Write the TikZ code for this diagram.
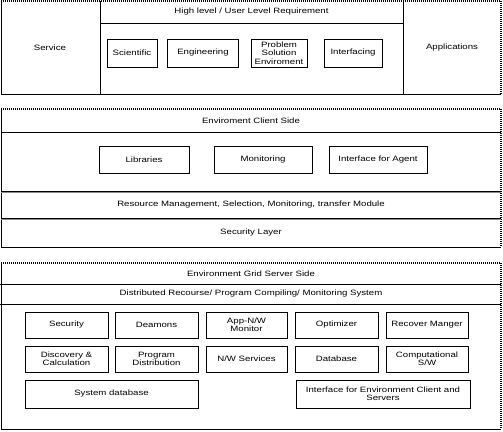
\documentclass[tikz,border=0pt]{standalone}
\usepackage{fontspec}
\setmainfont{Liberation Sans}[FakeStretch=1.25]
\usetikzlibrary{shadows}
\begin{document}
\begin{tikzpicture}[x=1pt,y=-1pt,
  every node/.style={font=\fontsize{7.7}{8.4}\selectfont, inner sep=0pt, outer sep=0pt, align=center},
  lbl/.style={},
  box/.style={draw, fill=white, line width=0.75pt,
    drop shadow={shadow xshift=0.8pt, shadow yshift=-0.8pt, fill=black!45, opacity=1}},
  solidedge/.style={line width=0.9pt},
  dotedge/.style={line width=1.2pt, dash pattern=on 1pt off 1pt},
  sepline/.style={line width=0.8pt},
  sepshadow/.style={line width=0.9pt, black!45}]
\useasboundingbox (0,0) rectangle (503,431);
% ---------- panel 1 ----------
\coordinate (p1tl) at (1,1); \coordinate (p1tr) at (501,1);
\coordinate (p1bl) at (1,94); \coordinate (p1br) at (501,94);
\draw[solidedge] (p1tl) -- (p1bl) -- (p1br);
\draw[dotedge] (p1tl) -- (p1tr) -- (p1br);
\coordinate (c1t) at (100,1); \coordinate (c1b) at (100,94);
\coordinate (c2t) at (403,1); \coordinate (c2b) at (403,94);
\draw[line width=0.8pt] (c1t) -- (c1b) (c2t) -- (c2b);
\coordinate (h1l) at (100,23); \coordinate (h1r) at (403,23);
\draw[line width=0.8pt] (h1l) -- (h1r);
\node[lbl] (hl) at (251.5,12) {High level / User Level Requirement};
\node[lbl] (svc) at (50,47.5) {Service};
\node[lbl] (app) at (452,47.5) {Applications};
\node[box, minimum width=50pt, minimum height=28pt] (sci) at (132,53) {Scientific};
\node[box, minimum width=71pt, minimum height=28pt] (eng) at (203,53) {Engineering};
\node[box, minimum width=56pt, minimum height=28pt] (pse) at (279,53) {Problem\\Solution\\Enviroment};
\node[box, minimum width=58pt, minimum height=28pt] (intf) at (353,53) {Interfacing};
% ---------- panel 2 ----------
\coordinate (p2tl) at (1,109); \coordinate (p2tr) at (501,109);
\coordinate (p2bl) at (1,247); \coordinate (p2br) at (501,247);
\draw[solidedge] (p2tl) -- (p2bl) -- (p2br);
\draw[dotedge] (p2tl) -- (p2tr) -- (p2br);
\coordinate (s2al) at (1,132); \coordinate (s2ar) at (501,132);
\coordinate (s2bl) at (1,191.5); \coordinate (s2br) at (501,191.5);
\coordinate (s2cl) at (1,218.5); \coordinate (s2cr) at (501,218.5);
\draw[sepshadow] ([yshift=-0.9pt]s2al) -- ([yshift=-0.9pt]s2ar)
  ([yshift=-0.9pt]s2bl) -- ([yshift=-0.9pt]s2br)
  ([yshift=-0.9pt]s2cl) -- ([yshift=-0.9pt]s2cr);
\draw[sepline] (s2al) -- (s2ar) (s2bl) -- (s2br) (s2cl) -- (s2cr);
\node[lbl] (ecs) at (251,120.5) {Enviroment Client Side};
\node[box, minimum width=90pt, minimum height=27pt] (lib) at (144,159.5) {Libraries};
\node[box, minimum width=98pt, minimum height=27pt] (mon) at (263,159.5) {Monitoring};
\node[box, minimum width=98pt, minimum height=27pt] (ifa) at (378,159.5) {Interface for Agent};
\node[lbl] (rm) at (251,205) {Resource Management, Selection, Monitoring, transfer Module};
\node[lbl] (sl) at (251,232.5) {Security Layer};
% ---------- panel 3 ----------
\coordinate (p3tl) at (1,263); \coordinate (p3tr) at (501,263);
\coordinate (p3bl) at (1,429); \coordinate (p3br) at (501,429);
\draw[solidedge] (p3tl) -- (p3bl) -- (p3br);
\draw[dotedge] (p3tl) -- (p3tr) -- (p3br);
\coordinate (s3al) at (0,284); \coordinate (s3ar) at (501,284);
\coordinate (s3bl) at (0,304); \coordinate (s3br) at (501,304);
\draw[sepshadow] ([yshift=-0.9pt]s3bl) -- ([yshift=-0.9pt]s3br);
\draw[sepline] (s3al) -- (s3ar) (s3bl) -- (s3br);
\node[lbl] (egs) at (251,273.5) {Environment Grid Server Side};
\node[lbl] (drs) at (251,294) {Distributed Recourse/ Program Compiling/ Monitoring System};
\node[box, minimum width=83pt, minimum height=26pt] (sec) at (66.5,325) {Security};
\node[box, minimum width=83pt, minimum height=26pt] (dea) at (156.5,325) {Deamons};
\node[box, minimum width=81pt, minimum height=26pt] (anm) at (246.5,325) {App-N/W\\Monitor};
\node[box, minimum width=83pt, minimum height=26pt] (opt) at (336.5,325) {Optimizer};
\node[box, minimum width=82pt, minimum height=26pt] (rec) at (427,325) {Recover Manger};
\node[box, minimum width=83pt, minimum height=26pt] (dis) at (66.5,359) {Discovery \&\\Calculation};
\node[box, minimum width=83pt, minimum height=26pt] (pd) at (156.5,359) {Program\\Distribution};
\node[box, minimum width=81pt, minimum height=26pt] (nws) at (246.5,359) {N/W Services};
\node[box, minimum width=83pt, minimum height=26pt] (db) at (336.5,359) {Database};
\node[box, minimum width=82pt, minimum height=26pt] (csw) at (427,359) {Computational\\S/W};
\node[box, minimum width=173pt, minimum height=28pt] (sdb) at (111.5,394) {System database};
\node[box, minimum width=174pt, minimum height=28pt] (iec) at (383,394) {Interface for Environment Client and\\Servers};
\end{tikzpicture}
\end{document}
